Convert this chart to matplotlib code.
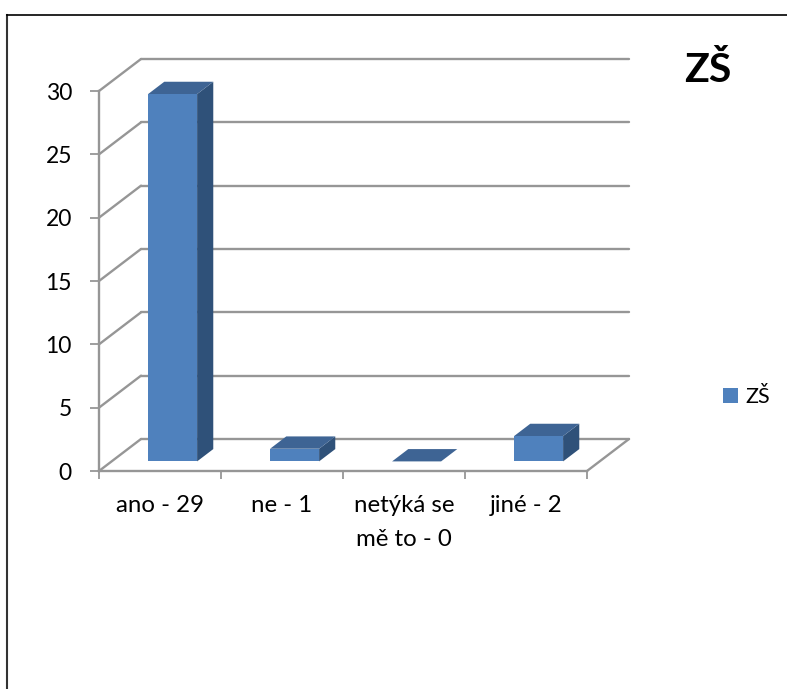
import matplotlib
matplotlib.use("Agg")
import matplotlib.pyplot as plt
from matplotlib.lines import Line2D
from matplotlib.patches import Patch, Polygon

categories = ["ano - 29", "ne - 1", "netýká se\nmě to - 0", "jiné - 2"]
values = [29, 1, 0, 2]
value_ticks = [0, 5, 10, 15, 20, 25, 30]
series_name = "ZŠ"

FRONT = "#4F81BD"
TOP = "#3E6494"
SIDE = "#2F5179"
AXIS = "#969696"
W, H = 787, 689

plt.rcParams["font.family"] = ["Lato", "DejaVu Sans"]
fig = plt.figure(figsize=(W / 100, H / 100), dpi=100, facecolor="white")

# Front plane of the 3D box, positioned in pixels
left, right, bottom, top = 99, 587, 471, 91
ax = fig.add_axes([left / W, 1 - bottom / H, (right - left) / W, (bottom - top) / H])
ax.set_xlim(0, len(categories))
ax.set_ylim(0, 30)
ax.patch.set_visible(False)

# Oblique projection: depth offset of the back wall, in data units
unit_x = (right - left) / len(categories)
unit_y = (bottom - top) / 30
depth_x = 42 / unit_x
depth_y = 32 / unit_y


def project(x, y, d):
    return x + d * depth_x, y + d * depth_y


line_kw = dict(color=AXIS, lw=1.7, clip_on=False, solid_capstyle="round", zorder=1)

# Back wall gridlines and the wall diagonals running to the front axis
for v in value_ticks:
    x0, y0 = project(0, v, 1)
    x1, _ = project(len(categories), v, 1)
    ax.plot([x0, x1], [y0, y0], **line_kw)
    ax.plot([0, x0], [v, y0], **line_kw)

# Right edge of the floor
xe, ye = project(len(categories), 0, 1)
ax.plot([len(categories), xe], [0, ye], **line_kw)

# Bars as three faces: top, side, front
bar_width = 49 / unit_x
d_front, d_back = 0.3, 0.685
for i, v in enumerate(values):
    xl = i + 0.5 - bar_width / 2
    xr = xl + bar_width
    fl = project(xl, v, d_front)
    fr = project(xr, v, d_front)
    bl = project(xl, v, d_back)
    br = project(xr, v, d_back)
    fr0 = project(xr, 0, d_front)
    br0 = project(xr, 0, d_back)
    ax.add_patch(Polygon([fr0, br0, br, fr], closed=True, fc=SIDE, ec="none", clip_on=False, zorder=3))
    ax.add_patch(Polygon([fl, fr, br, bl], closed=True, fc=TOP, ec="none", clip_on=False, zorder=3))
    base = project(xl, 0, d_front)
    ax.bar(base[0], v, width=bar_width, bottom=base[1], align="edge", color=FRONT, clip_on=False, zorder=4)

# Axes
for side in ("top", "right"):
    ax.spines[side].set_visible(False)
for side in ("left", "bottom"):
    ax.spines[side].set_color(AXIS)
    ax.spines[side].set_linewidth(1.7)
    ax.spines[side].set_zorder(2)

ax.set_yticks(value_ticks)
ax.tick_params(axis="y", which="major", length=6.5, width=1.3, color=AXIS, labelsize=16.5, pad=13, labelcolor="black")
ax.set_xticks(range(len(categories) + 1))
ax.set_xticklabels([])
ax.tick_params(axis="x", which="major", length=6, width=1.3, color=AXIS)
ax.set_xticks([i + 0.5 for i in range(len(categories))], minor=True)
ax.set_xticklabels(categories, minor=True, fontsize=17.3, linespacing=1.77, color="black")
ax.tick_params(axis="x", which="minor", length=0, pad=17)

# Title
fig.text(708 / W, 1 - 70 / H, series_name, fontsize=29.5, fontweight="bold", ha="center", va="center", color="black")

# Legend
ax.legend(
    handles=[Patch(facecolor=FRONT, edgecolor="none", label=series_name)],
    loc="center left",
    bbox_to_anchor=(723 / W, 1 - 397 / H),
    bbox_transform=fig.transFigure,
    frameon=False,
    fontsize=15.5,
    handlelength=0.7,
    handleheight=0.7,
    handletextpad=0.33,
    borderpad=0,
    borderaxespad=0,
)

# Chart frame: top and left edges only
fig.add_artist(Line2D([6.5 / W, 6.5 / W], [0, 1 - 14.5 / H], color="#333333", lw=1.5, transform=fig.transFigure))
fig.add_artist(Line2D([6.5 / W, 1], [1 - 14.5 / H, 1 - 14.5 / H], color="black", lw=1.2, transform=fig.transFigure))

fig.savefig("out.png", dpi=100, facecolor="white")
